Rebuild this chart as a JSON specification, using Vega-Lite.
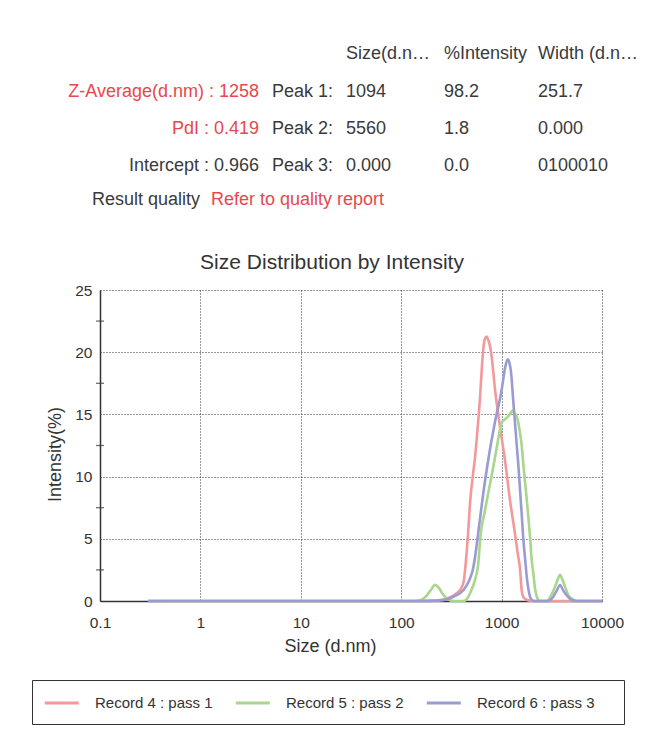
{
  "$schema": "https://vega.github.io/schema/vega-lite/v6.json",
  "autosize": {"type": "none"},
  "width": 502,
  "height": 311,
  "padding": {"left": 100, "top": 290, "right": 50, "bottom": 142},
  "background": "white",
  "datasets": {
    "dist": [
      {"record": "Record 4 : pass 1", "size": 0.3, "intensity": 0},
      {"record": "Record 4 : pass 1", "size": 100, "intensity": 0},
      {"record": "Record 4 : pass 1", "size": 150, "intensity": 0},
      {"record": "Record 4 : pass 1", "size": 230, "intensity": 0.05},
      {"record": "Record 4 : pass 1", "size": 284, "intensity": 0.2},
      {"record": "Record 4 : pass 1", "size": 357, "intensity": 0.62},
      {"record": "Record 4 : pass 1", "size": 400, "intensity": 1.1},
      {"record": "Record 4 : pass 1", "size": 420, "intensity": 1.6},
      {"record": "Record 4 : pass 1", "size": 442, "intensity": 3.3},
      {"record": "Record 4 : pass 1", "size": 466, "intensity": 5.7},
      {"record": "Record 4 : pass 1", "size": 484, "intensity": 7.8},
      {"record": "Record 4 : pass 1", "size": 523, "intensity": 10.4},
      {"record": "Record 4 : pass 1", "size": 543, "intensity": 11.5},
      {"record": "Record 4 : pass 1", "size": 573, "intensity": 13.6},
      {"record": "Record 4 : pass 1", "size": 609, "intensity": 16.3},
      {"record": "Record 4 : pass 1", "size": 634, "intensity": 18.6},
      {"record": "Record 4 : pass 1", "size": 658, "intensity": 20.3},
      {"record": "Record 4 : pass 1", "size": 684, "intensity": 21.1},
      {"record": "Record 4 : pass 1", "size": 710, "intensity": 21.25},
      {"record": "Record 4 : pass 1", "size": 735, "intensity": 21.0},
      {"record": "Record 4 : pass 1", "size": 766, "intensity": 20.5},
      {"record": "Record 4 : pass 1", "size": 797, "intensity": 19.6},
      {"record": "Record 4 : pass 1", "size": 860, "intensity": 17.0},
      {"record": "Record 4 : pass 1", "size": 964, "intensity": 14.0},
      {"record": "Record 4 : pass 1", "size": 1081, "intensity": 11.3},
      {"record": "Record 4 : pass 1", "size": 1213, "intensity": 8.1},
      {"record": "Record 4 : pass 1", "size": 1360, "intensity": 5.4},
      {"record": "Record 4 : pass 1", "size": 1450, "intensity": 3.8},
      {"record": "Record 4 : pass 1", "size": 1525, "intensity": 2.6},
      {"record": "Record 4 : pass 1", "size": 1585, "intensity": 0.85},
      {"record": "Record 4 : pass 1", "size": 1650, "intensity": 0.3},
      {"record": "Record 4 : pass 1", "size": 1777, "intensity": 0.1},
      {"record": "Record 4 : pass 1", "size": 1950, "intensity": 0.02},
      {"record": "Record 4 : pass 1", "size": 2300, "intensity": 0},
      {"record": "Record 4 : pass 1", "size": 10000, "intensity": 0},
      {"record": "Record 5 : pass 2", "size": 0.3, "intensity": 0},
      {"record": "Record 5 : pass 2", "size": 140, "intensity": 0},
      {"record": "Record 5 : pass 2", "size": 160, "intensity": 0.1},
      {"record": "Record 5 : pass 2", "size": 180, "intensity": 0.45},
      {"record": "Record 5 : pass 2", "size": 200, "intensity": 0.95},
      {"record": "Record 5 : pass 2", "size": 217, "intensity": 1.3},
      {"record": "Record 5 : pass 2", "size": 235, "intensity": 1.1},
      {"record": "Record 5 : pass 2", "size": 255, "intensity": 0.65},
      {"record": "Record 5 : pass 2", "size": 280, "intensity": 0.25},
      {"record": "Record 5 : pass 2", "size": 310, "intensity": 0.04},
      {"record": "Record 5 : pass 2", "size": 340, "intensity": 0},
      {"record": "Record 5 : pass 2", "size": 420, "intensity": 0},
      {"record": "Record 5 : pass 2", "size": 450, "intensity": 0.15},
      {"record": "Record 5 : pass 2", "size": 484, "intensity": 0.6},
      {"record": "Record 5 : pass 2", "size": 543, "intensity": 1.7},
      {"record": "Record 5 : pass 2", "size": 586, "intensity": 3.0},
      {"record": "Record 5 : pass 2", "size": 609, "intensity": 4.8},
      {"record": "Record 5 : pass 2", "size": 684, "intensity": 7.3},
      {"record": "Record 5 : pass 2", "size": 766, "intensity": 9.4},
      {"record": "Record 5 : pass 2", "size": 827, "intensity": 10.8},
      {"record": "Record 5 : pass 2", "size": 893, "intensity": 12.3},
      {"record": "Record 5 : pass 2", "size": 964, "intensity": 13.8},
      {"record": "Record 5 : pass 2", "size": 1003, "intensity": 14.35},
      {"record": "Record 5 : pass 2", "size": 1080, "intensity": 14.6},
      {"record": "Record 5 : pass 2", "size": 1166, "intensity": 14.85},
      {"record": "Record 5 : pass 2", "size": 1230, "intensity": 15.1},
      {"record": "Record 5 : pass 2", "size": 1288, "intensity": 15.3},
      {"record": "Record 5 : pass 2", "size": 1350, "intensity": 15.1},
      {"record": "Record 5 : pass 2", "size": 1413, "intensity": 14.8},
      {"record": "Record 5 : pass 2", "size": 1470, "intensity": 14.3},
      {"record": "Record 5 : pass 2", "size": 1525, "intensity": 13.5},
      {"record": "Record 5 : pass 2", "size": 1585, "intensity": 12.5},
      {"record": "Record 5 : pass 2", "size": 1645, "intensity": 11.0},
      {"record": "Record 5 : pass 2", "size": 1710, "intensity": 9.6},
      {"record": "Record 5 : pass 2", "size": 1777, "intensity": 8.2},
      {"record": "Record 5 : pass 2", "size": 1845, "intensity": 6.8},
      {"record": "Record 5 : pass 2", "size": 1918, "intensity": 5.2},
      {"record": "Record 5 : pass 2", "size": 1995, "intensity": 3.3},
      {"record": "Record 5 : pass 2", "size": 2070, "intensity": 2.2},
      {"record": "Record 5 : pass 2", "size": 2153, "intensity": 1.0},
      {"record": "Record 5 : pass 2", "size": 2234, "intensity": 0.4},
      {"record": "Record 5 : pass 2", "size": 2323, "intensity": 0.1},
      {"record": "Record 5 : pass 2", "size": 2450, "intensity": 0},
      {"record": "Record 5 : pass 2", "size": 2800, "intensity": 0},
      {"record": "Record 5 : pass 2", "size": 3034, "intensity": 0.3},
      {"record": "Record 5 : pass 2", "size": 3404, "intensity": 1.15},
      {"record": "Record 5 : pass 2", "size": 3650, "intensity": 1.8},
      {"record": "Record 5 : pass 2", "size": 3818, "intensity": 2.1},
      {"record": "Record 5 : pass 2", "size": 4000, "intensity": 1.8},
      {"record": "Record 5 : pass 2", "size": 4279, "intensity": 1.15},
      {"record": "Record 5 : pass 2", "size": 4600, "intensity": 0.5},
      {"record": "Record 5 : pass 2", "size": 4990, "intensity": 0.2},
      {"record": "Record 5 : pass 2", "size": 5500, "intensity": 0.02},
      {"record": "Record 5 : pass 2", "size": 6000, "intensity": 0},
      {"record": "Record 5 : pass 2", "size": 10000, "intensity": 0},
      {"record": "Record 6 : pass 3", "size": 0.3, "intensity": 0},
      {"record": "Record 6 : pass 3", "size": 150, "intensity": 0},
      {"record": "Record 6 : pass 3", "size": 230, "intensity": 0.03},
      {"record": "Record 6 : pass 3", "size": 284, "intensity": 0.13},
      {"record": "Record 6 : pass 3", "size": 357, "intensity": 0.48},
      {"record": "Record 6 : pass 3", "size": 385, "intensity": 0.62},
      {"record": "Record 6 : pass 3", "size": 449, "intensity": 1.25},
      {"record": "Record 6 : pass 3", "size": 484, "intensity": 1.8},
      {"record": "Record 6 : pass 3", "size": 523, "intensity": 2.7},
      {"record": "Record 6 : pass 3", "size": 543, "intensity": 3.5},
      {"record": "Record 6 : pass 3", "size": 596, "intensity": 6.0},
      {"record": "Record 6 : pass 3", "size": 658, "intensity": 8.7},
      {"record": "Record 6 : pass 3", "size": 738, "intensity": 11.4},
      {"record": "Record 6 : pass 3", "size": 860, "intensity": 14.4},
      {"record": "Record 6 : pass 3", "size": 1003, "intensity": 17.0},
      {"record": "Record 6 : pass 3", "size": 1080, "intensity": 18.7},
      {"record": "Record 6 : pass 3", "size": 1148, "intensity": 19.43},
      {"record": "Record 6 : pass 3", "size": 1200, "intensity": 19.1},
      {"record": "Record 6 : pass 3", "size": 1241, "intensity": 18.4},
      {"record": "Record 6 : pass 3", "size": 1309, "intensity": 16.0},
      {"record": "Record 6 : pass 3", "size": 1413, "intensity": 12.6},
      {"record": "Record 6 : pass 3", "size": 1466, "intensity": 11.0},
      {"record": "Record 6 : pass 3", "size": 1525, "intensity": 9.0},
      {"record": "Record 6 : pass 3", "size": 1585, "intensity": 7.0},
      {"record": "Record 6 : pass 3", "size": 1645, "intensity": 5.0},
      {"record": "Record 6 : pass 3", "size": 1710, "intensity": 3.5},
      {"record": "Record 6 : pass 3", "size": 1777, "intensity": 2.0},
      {"record": "Record 6 : pass 3", "size": 1845, "intensity": 1.0},
      {"record": "Record 6 : pass 3", "size": 1918, "intensity": 0.35},
      {"record": "Record 6 : pass 3", "size": 1995, "intensity": 0.1},
      {"record": "Record 6 : pass 3", "size": 2100, "intensity": 0},
      {"record": "Record 6 : pass 3", "size": 2800, "intensity": 0},
      {"record": "Record 6 : pass 3", "size": 3000, "intensity": 0.05},
      {"record": "Record 6 : pass 3", "size": 3275, "intensity": 0.35},
      {"record": "Record 6 : pass 3", "size": 3550, "intensity": 0.85},
      {"record": "Record 6 : pass 3", "size": 3818, "intensity": 1.29},
      {"record": "Record 6 : pass 3", "size": 4100, "intensity": 0.85},
      {"record": "Record 6 : pass 3", "size": 4450, "intensity": 0.45},
      {"record": "Record 6 : pass 3", "size": 4900, "intensity": 0.12},
      {"record": "Record 6 : pass 3", "size": 5600, "intensity": 0},
      {"record": "Record 6 : pass 3", "size": 10000, "intensity": 0}
    ],
    "minor": [
      {"intensity": 2.5}, {"intensity": 7.5}, {"intensity": 12.5}, {"intensity": 17.5}, {"intensity": 22.5}
    ],
    "table": [
      {"row": 0, "col": 4, "text": "Size(d.n…", "flag": "normal"},
      {"row": 0, "col": 5, "text": "%Intensity", "flag": "normal"},
      {"row": 0, "col": 6, "text": "Width (d.n…", "flag": "normal"},
      {"row": 1, "col": 2, "text": "Z-Average(d.nm) : 1258", "flag": "warn"},
      {"row": 1, "col": 3, "text": "Peak 1:", "flag": "normal"},
      {"row": 1, "col": 4, "text": "1094", "flag": "normal"},
      {"row": 1, "col": 5, "text": "98.2", "flag": "normal"},
      {"row": 1, "col": 6, "text": "251.7", "flag": "normal"},
      {"row": 2, "col": 2, "text": "PdI : 0.419", "flag": "warn"},
      {"row": 2, "col": 3, "text": "Peak 2:", "flag": "normal"},
      {"row": 2, "col": 4, "text": "5560", "flag": "normal"},
      {"row": 2, "col": 5, "text": "1.8", "flag": "normal"},
      {"row": 2, "col": 6, "text": "0.000", "flag": "normal"},
      {"row": 3, "col": 2, "text": "Intercept : 0.966", "flag": "normal"},
      {"row": 3, "col": 3, "text": "Peak 3:", "flag": "normal"},
      {"row": 3, "col": 4, "text": "0.000", "flag": "normal"},
      {"row": 3, "col": 5, "text": "0.0", "flag": "normal"},
      {"row": 3, "col": 6, "text": "0100010", "flag": "normal"},
      {"row": 4, "col": 0, "text": "Result quality", "flag": "normal"},
      {"row": 4, "col": 1, "text": "Refer to quality report", "flag": "warn"},
      {"row": 5, "col": 7, "text": "Size Distribution by Intensity", "flag": "title"}
    ]
  },
  "layer": [
    {
      "layer": [
        {
          "data": {"name": "dist"},
          "mark": {"type": "line", "strokeWidth": 2.6, "interpolate": "monotone"},
          "encoding": {
            "x": {"field": "size", "type": "quantitative", "scale": {"type": "log", "domain": [0.1, 10000], "nice": false},
              "axis": {"values": [0.1, 1, 10, 100, 1000, 10000], "format": "~g", "title": "Size (d.nm)", "labelFlush": false, "labelOverlap": false, "labelPadding": 14, "titlePadding": 7, "titleX": 230, "grid": true}},
            "y": {"field": "intensity", "type": "quantitative", "scale": {"domain": [0, 25], "nice": false},
              "axis": {"values": [0, 5, 10, 15, 20, 25], "title": "Intensity(%)", "labelPadding": 8, "titlePadding": 10, "titleY": 164, "grid": true}},
            "color": {"field": "record", "type": "nominal",
              "scale": {"domain": ["Record 4 : pass 1", "Record 5 : pass 2", "Record 6 : pass 3"], "range": ["#f4989c", "#a8d68c", "#9b9bd3"]},
              "legend": {"title": "\u00a0", "titleOrient": "right", "titlePadding": 16, "titleFontSize": 15}}
          }
        },
        {
          "data": {"name": "minor"},
          "mark": {"type": "tick", "orient": "horizontal", "size": 8, "thickness": 1.3, "color": "#333333"},
          "encoding": {
            "x": {"datum": 0.1, "type": "quantitative"},
            "y": {"field": "intensity", "type": "quantitative"}
          }
        }
      ]
    },
    {
      "data": {"name": "table"},
      "layer": [
        {
          "transform": [{"filter": "datum.col === 0 || datum.col === 2"}],
          "mark": {"type": "text", "align": "right", "baseline": "middle", "fontSize": 18, "font": "Liberation Sans"}
        },
        {
          "transform": [{"filter": "datum.col !== 0 && datum.col !== 2 && datum.col !== 7"}],
          "mark": {"type": "text", "align": "left", "baseline": "middle", "fontSize": 18, "font": "Liberation Sans"}
        },
        {
          "transform": [{"filter": "datum.col === 7"}],
          "mark": {"type": "text", "align": "center", "baseline": "middle", "fontSize": 21, "font": "Liberation Sans"}
        }
      ],
      "encoding": {
        "x": {"field": "col", "type": "quantitative", "axis": null,
          "scale": {"domain": [0, 1, 2, 3, 4, 5, 6, 7], "range": [100, 111, 159, 172, 246, 344, 438, 232], "zero": false, "nice": false}},
        "y": {"field": "row", "type": "quantitative", "axis": null,
          "scale": {"domain": [0, 1, 2, 3, 4, 5], "range": [-236, -198, -161, -124, -90, -27], "zero": false, "nice": false}},
        "text": {"field": "text", "type": "nominal"},
        "color": {"field": "flag", "type": "nominal", "legend": null,
          "scale": {"domain": ["normal", "warn", "title"], "range": ["#3a3a3a", "#e8474c", "#333333"]}}
      }
    }
  ],
  "resolve": {"scale": {"x": "independent", "y": "independent", "color": "independent"}},
  "config": {
    "view": {"stroke": null},
    "font": "Liberation Sans",
    "axis": {
      "labelFont": "Liberation Sans", "titleFont": "Liberation Sans",
      "labelFontSize": 15.5, "titleFontSize": 18, "titleFontWeight": "normal",
      "labelColor": "#333333", "titleColor": "#333333",
      "domainColor": "#333333", "domainWidth": 1.5,
      "gridColor": "#333333", "gridDash": [1, 2], "gridOpacity": 1, "gridWidth": 1,
      "ticks": false, "tickSize": 0
    },
    "legend": {
      "orient": "none", "legendX": -68, "legendY": 390,
      "direction": "horizontal", "columns": 3,
      "strokeColor": "#333333", "strokeWidth": 1, "padding": 13,
      "columnPadding": 16, "symbolType": "M-1.2,0H2.8", "symbolSize": 289, "symbolStrokeWidth": 3,
      "labelFont": "Liberation Sans", "labelFontSize": 15, "labelColor": "#333333", "labelOffset": 30
    }
  }
}
